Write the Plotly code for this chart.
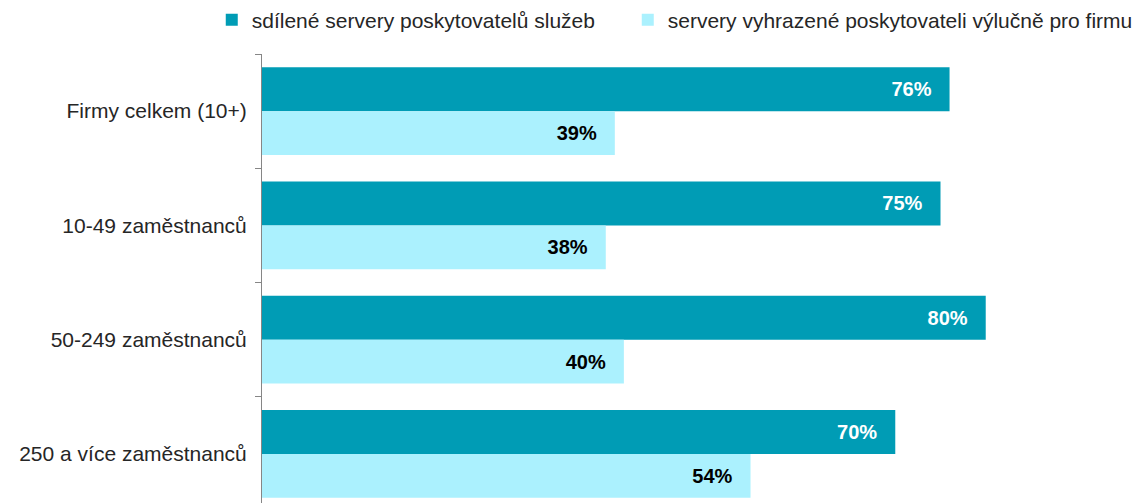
import plotly.graph_objects as go

categories = ["Firmy celkem (10+)", "10-49 zaměstnanců", "50-249 zaměstnanců", "250 a více zaměstnanců"]
shared = [76, 75, 80, 70]
dedicated = [39, 38, 40, 54]
series_names = ["sdílené servery poskytovatelů služeb", "servery vyhrazené poskytovateli výlučně pro firmu"]

PAD = "\u00a0\u00a0\u2009"
FONT = "Liberation Sans, Arial, sans-serif"

fig = go.Figure()
fig.add_trace(go.Bar(
    y=categories, x=shared, orientation="h", name=series_names[0],
    marker=dict(color="#009CB5", line=dict(width=0)),
    text=[f"{v}%{PAD}" for v in shared], textposition="inside", insidetextanchor="end",
    textfont=dict(family=FONT, size=20, color="white", weight="bold"),
    constraintext="none", legend="legend",
))
fig.add_trace(go.Bar(
    y=categories, x=dedicated, orientation="h", name=series_names[1],
    marker=dict(color="#ABF1FE", line=dict(width=0)),
    text=[f"{v}%{PAD}" for v in dedicated], textposition="inside", insidetextanchor="end",
    textfont=dict(family=FONT, size=20, color="black", weight="bold"),
    constraintext="none", legend="legend2",
))

legend_common = dict(
    orientation="h", xref="container", yref="paper",
    y=1.074, xanchor="left", yanchor="middle",
    font=dict(family=FONT, size=21, color="#262626"),
    itemsizing="constant", bgcolor="rgba(0,0,0,0)",
)

fig.update_layout(
    width=1146, height=503,
    margin=dict(l=254, r=0, t=46, b=0, autoexpand=False),
    barmode="group", bargap=0.232, bargroupgap=0,
    plot_bgcolor="white", paper_bgcolor="white",
    font=dict(family=FONT, size=21, color="#262626"),
    showlegend=True,
    legend=dict(x=0.1778, **legend_common),
    legend2=dict(x=0.5408, **legend_common),
    xaxis=dict(range=[0, 98.6], visible=False, showgrid=False, zeroline=False),
    yaxis=dict(
        type="category", range=[3.5, -0.5], autorange=False, automargin=False,
        showline=True, linecolor="#868686", linewidth=1,
        ticks="outside", tickson="boundaries", ticklen=6, tickcolor="#868686",
        ticklabelstandoff=10, showgrid=False, zeroline=False,
        tickfont=dict(family=FONT, size=21, color="#262626"),
    ),
)

fig.write_html("out.html")
